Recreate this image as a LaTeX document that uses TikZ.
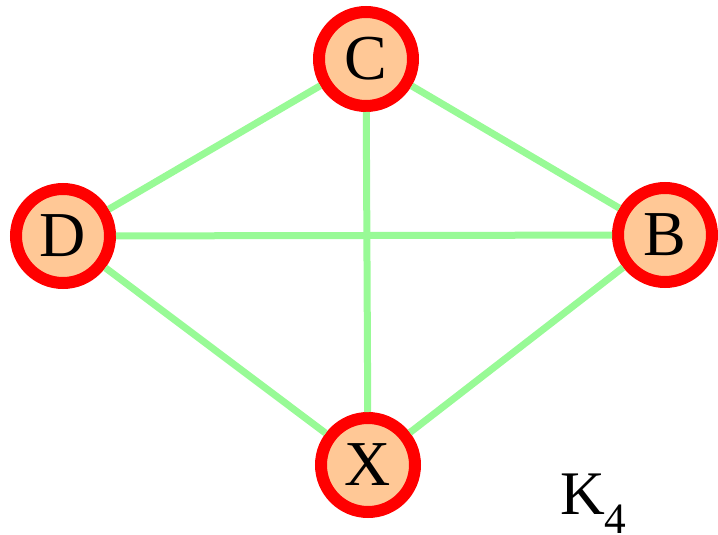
\documentclass[tikz,border=0pt]{standalone}
\usepackage{fontspec}
\setmainfont{Liberation Serif}
\definecolor{edgegreen}{RGB}{152,250,150}
\definecolor{nodefill}{RGB}{255,200,150}
\definecolor{nodered}{RGB}{255,0,0}
\begin{document}
\begin{tikzpicture}[x=1pt,y=-1pt,
  vert/.style={circle,draw=nodered,fill=nodefill,line width=12pt,minimum size=94pt,inner sep=0pt,font=\fontsize{64}{64}\selectfont},
  edge/.style={draw=edgegreen,line width=7pt}]
\useasboundingbox (0,0) rectangle (718,535);
\node[vert] (C) at (366,59) {C};
\node[vert] (D) at (63,236) {D};
\node[vert] (B) at (665,235) {B};
\node[vert] (X) at (368,465) {X};
\path[edge] (D) -- (C);
\path[edge] (C) -- (B);
\path[edge] (D) -- (B);
\path[edge] (C) -- (X);
\path[edge] (D) -- (X);
\path[edge] (B) -- (X);
\node[anchor=base west,inner sep=0pt,font=\fontsize{62}{62}\selectfont] (K) at (560,514) {K\textsubscript{4}};
\end{tikzpicture}
\end{document}
